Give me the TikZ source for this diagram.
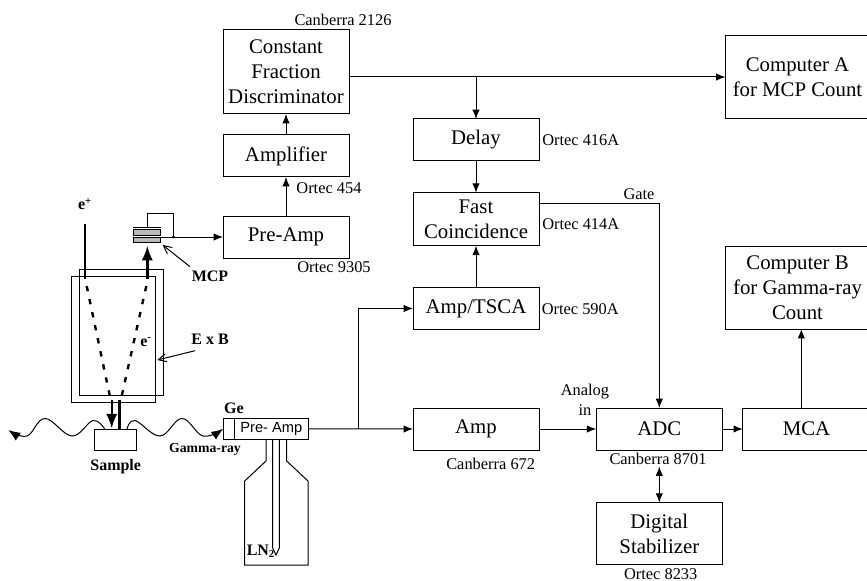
\documentclass[tikz,border=0pt]{standalone}
\usepackage{fontspec}
\setmainfont{Liberation Serif}
\newfontfamily\boxsans{Liberation Sans}
\usetikzlibrary{arrows.meta}

\tikzset{
  module/.style={draw, line width=0.75pt, inner sep=0pt, outer sep=0pt, align=center,
    minimum width=94.5pt, minimum height=31.5pt,
    font=\fontsize{15.6}{18.75}\selectfont},
  maker/.style={inner sep=0pt, font=\fontsize{12.3}{15}\selectfont},
  tag/.style={inner sep=0pt, font=\fontsize{12}{14}\selectfont\bfseries},
  signal/.style={line width=0.75pt, -{Latex[length=7pt,width=5.5pt]}},
  wave/.style={line width=0.75pt, -{Latex[length=9pt,width=7pt]}},
  wire/.style={line width=0.75pt},
  beam/.style={line width=1.8pt},
  plate/.style={draw, line width=0.75pt, fill=gray!55, inner sep=0pt, outer sep=0pt,
    minimum width=20.5pt, minimum height=4.3pt},
}

\begin{document}
\begin{tikzpicture}[x=0.75pt, y=-0.75pt]
  \path[use as bounding box, clip] (0,0) rectangle (867,581);

  % Upper chain
  \node[module, minimum height=63pt] (cfd) at (286,72) {Constant\\Fraction\\Discriminator};
  \node[module] (amplifier) at (286,156) {Amplifier};
  \node[module] (mcpamp) at (286,237) {Pre-Amp};
  \node[module] (delay) at (476,140) {Delay};
  \node[module, minimum height=39.75pt] (fast) at (476,219.2) {Fast\\Coincidence};
  \node[module] (tsca) at (476,308.5) {Amp/TSCA};
  \node[module, minimum width=108pt, minimum height=62.5pt] (compa) at (797.5,77) {Computer A\\for MCP Count};

  % Lower chain
  \node[module] (amp) at (476,429) {Amp};
  \node[module] (adc) at (659.3,429) {ADC};
  \node[module, minimum width=95.5pt] (mca) at (806.5,429) {MCA};
  \node[module, minimum height=46.7pt] (stab) at (659.3,533.8) {Digital\\Stabilizer};
  \node[module, minimum width=108pt, minimum height=62.25pt] (compb) at (797.5,287.5) {Computer B\\for Gamma-ray\\Count};

  % Model numbers
  \node[maker] (lblcfd) at (343,20) {Canberra 2126};
  \node[maker] (lblamplifier) at (329,188) {Ortec 454};
  \node[maker] (lblmcpamp) at (334,267) {Ortec 9305};
  \node[maker, anchor=west] (lbldelay) at (542,140) {Ortec 416A};
  \node[maker, anchor=west] (lblfast) at (542,224) {Ortec 414A};
  \node[maker, anchor=west] (lbltsca) at (541.5,309) {Ortec 590A};
  \node[maker] (lblamp) at (490.7,464) {Canberra 672};
  \node[maker] (lbladc) at (658,459) {Canberra 8701};
  \node[maker] (lblstab) at (660.7,574) {Ortec 8233};
  \node[maker] (lblgate) at (639,194) {Gate};
  \node[maker, align=center] (lblanalog) at (585,400) {Analog\\in};

  % Signal paths
  \draw[signal] (mcpamp) -- (amplifier);
  \draw[signal] (amplifier) -- (cfd);
  \coordinate (split) at (delay.north |- compa.west);
  \draw[signal] (cfd.east |- compa.west) -- (compa.west);
  \draw[signal] (split) -- (delay.north);
  \draw[signal] (delay) -- (fast);
  \draw[signal] (tsca) -- (fast);
  \coordinate (gateout) at (539,203.3);
  \draw[signal] (gateout) -| (adc.north);
  \draw[signal] (amp) -- (adc);
  \draw[signal] (adc) -- (mca);
  \coordinate (mcaout) at (801.3,408);
  \draw[signal] (mcaout) -- (mcaout |- compb.south);
  \coordinate (stabtop) at (659.3,466.5);
  \draw[line width=0.75pt, {Latex[length=7pt,width=5.5pt]}-{Latex[length=7pt,width=5.5pt]}] (stabtop) -- (stab.north);

  % Ge detector and dewar
  \node[draw, line width=0.75pt, inner sep=0pt, outer sep=0pt, minimum width=8.25pt, minimum height=15.75pt] (ge) at (228.8,428.8) {};
  \node[draw, line width=0.75pt, inner sep=0pt, outer sep=0pt, minimum width=55.5pt, minimum height=15.75pt, font=\boxsans\fontsize{11}{13}\selectfont] (geamp) at (271.3,428.8) {Pre- Amp};
  \node[tag] (lblge) at (234,408) {Ge};
  \draw[signal] (geamp.east) -- (amp.west);
  \coordinate (branch) at (358,429);
  \draw[signal] (branch) |- (tsca.west);
  \draw[wire] (266,439.3) -- (266,461) -- (244.7,481) -- (244.7,565) -- (308,565) -- (308,481) -- (286.7,461) -- (286.7,439.3);
  \draw[wire] (272.7,439.3) -- (272.7,548) -- (276,555) -- (279.3,548) -- (279.3,439.3);
  \node[tag, anchor=west] (lbln) at (246.5,551) {LN\textsubscript{2}};

  % Chamber
  \draw[wire] (79.3,269) rectangle (163.7,395);
  \draw[wire] (71,276.7) rectangle (155.7,402.7);
  \draw[beam] (85,224) -- (85,279);
  \draw[beam, -{Latex[length=11pt,width=8.5pt]}] (147.3,279) -- (147.3,245.7);
  \draw[beam, dash pattern=on 4pt off 6pt] (86.7,286) -- (110,397);
  \draw[beam, dash pattern=on 4pt off 6pt] (146.3,286) -- (121.5,397);
  \draw[beam, -{Latex[length=11pt,width=8.5pt]}] (111.7,400) -- (111.7,428.5);
  \draw[beam] (119.3,400) -- (119.3,429);
  \node[tag] (lblpos) at (85,204) {e\textsuperscript{+}};
  \node[tag] (lblele) at (146,342) {e\textsuperscript{-}};

  % Sample and gamma rays
  \node[draw, line width=0.75pt, inner sep=0pt, outer sep=0pt, minimum width=31.75pt, minimum height=15.75pt] (sample) at (115.5,439.5) {};
  \node[tag] (lblsample) at (115.7,467) {Sample};
  \draw[wave] plot[smooth, tension=0.65] coordinates {(104.7,429) (93,420.5) (72,436) (45,418.5) (27,436) (8.3,430)};
  \draw[wave] plot[smooth, tension=0.65] coordinates {(127,429) (135,420.5) (160,436) (182,418.5) (203,436) (ge.west)};
  \node[tag, font=\fontsize{10.3}{12}\selectfont\bfseries] (lblgamma) at (205,449) {Gamma-ray};

  % MCP
  \node[plate] (plateup) at (147.2,232.2) {};
  \node[plate] (platedown) at (147.2,239.9) {};
  \draw[wire] (133.3,227) -- (161,227);
  \coordinate (loop) at (173.3,237);
  \draw[wire] (147.7,227) |- (173.3,213.7) -- (loop);
  \draw[signal] (161,237) -- (mcpamp.west |- loop);
  \fill (loop) circle (1.1pt);
  \node[tag] (lblmcp) at (210,276) {MCP};
  \node[tag] (lblexb) at (210,339) {E x B};
  \draw[wire, -{Straight Barb[length=6pt,width=6pt]}] (190,266.7) -- (162.7,245);
  \draw[wire, -{Straight Barb[length=6pt,width=6pt]}] (195,350.7) -- (157.3,360);
\end{tikzpicture}
\end{document}
